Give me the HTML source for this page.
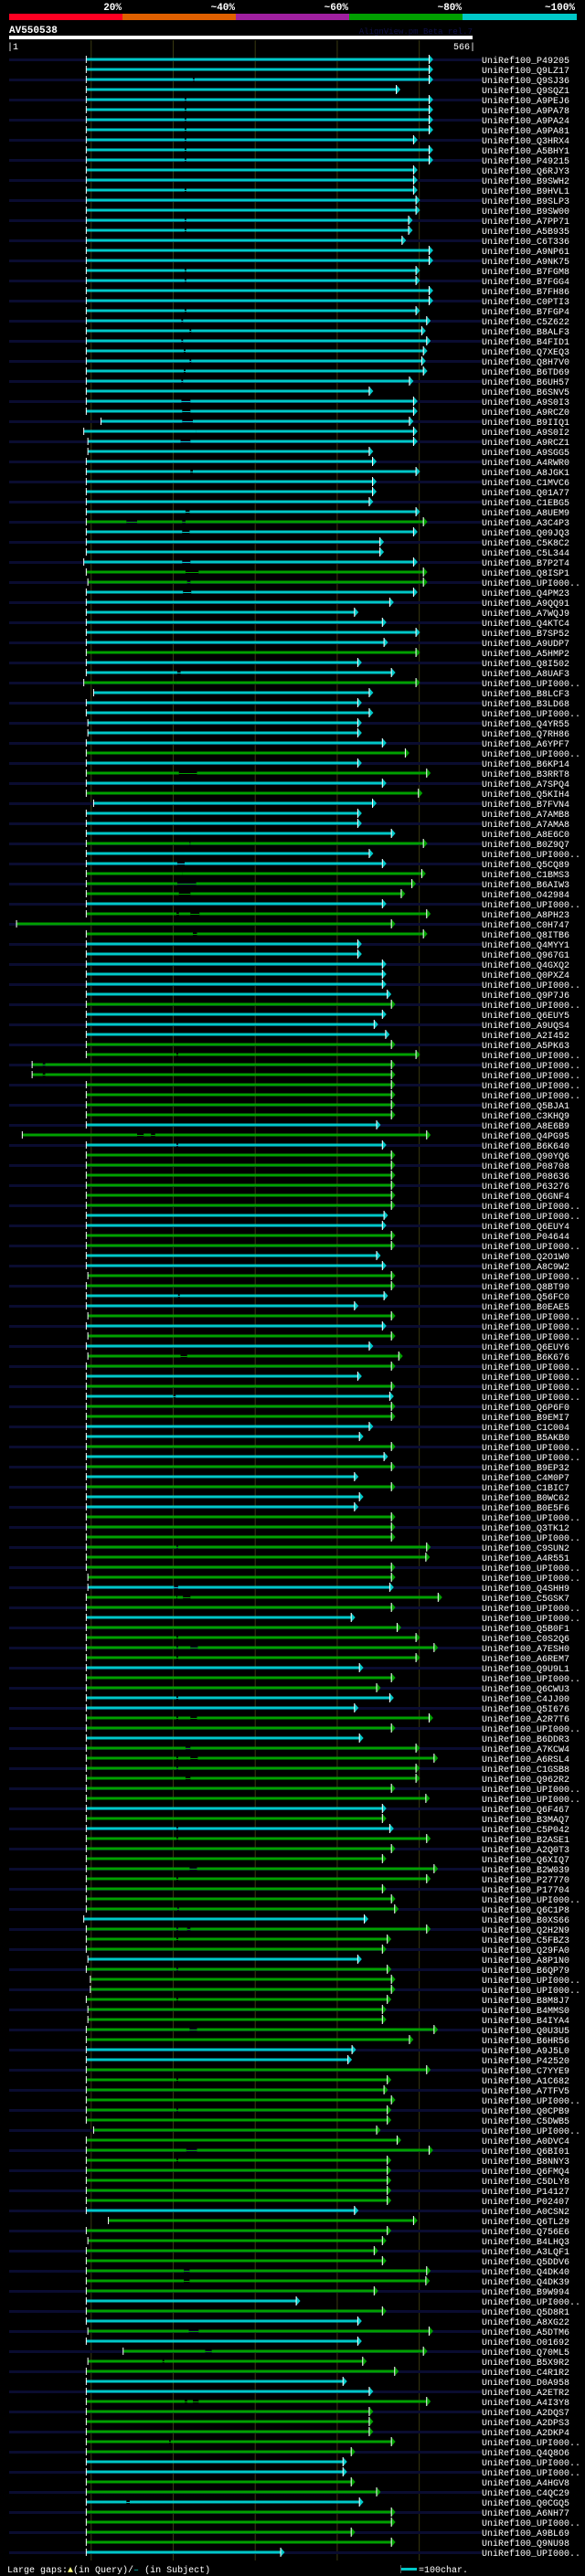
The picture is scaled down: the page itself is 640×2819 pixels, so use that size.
<!DOCTYPE html>
<html><head><meta charset="utf-8">
<style>
html,body{margin:0;padding:0;background:#000;}
svg{display:block;font-family:"Liberation Mono","DejaVu Sans Mono",monospace;}
</style></head>
<body>
<svg id="chart" width="640" height="2819" viewBox="0 0 640 2819" xmlns="http://www.w3.org/2000/svg">
<rect x="0" y="0" width="640" height="2819" fill="#000"/>
<g>
<rect x="10" y="15" width="124" height="7" fill="#ff0022"/>
<rect x="134" y="15" width="124" height="7" fill="#e06000"/>
<rect x="258" y="15" width="124" height="7" fill="#a020a0"/>
<rect x="382" y="15" width="124" height="7" fill="#00a000"/>
<rect x="506" y="15" width="125" height="7" fill="#00c8c8"/>
<g fill="#fff" font-size="11" font-weight="bold" text-anchor="end">
<text x="133" y="11">20%</text>
<text x="257" y="11">~40%</text>
<text x="381" y="11">~60%</text>
<text x="505" y="11">~80%</text>
<text x="629" y="11">~100%</text>
</g>
</g>
<text x="10" y="36" fill="#fff" font-size="11" font-weight="bold">AV550538</text>
<text x="517" y="37" fill="#101048" font-size="9" text-anchor="end">AlignView.pm Beta rel.7</text>
<rect x="10" y="39" width="507" height="4" fill="#fff"/>
<text x="8" y="54" fill="#fff" font-size="10">|1</text>
<text x="520" y="54" fill="#fff" font-size="10" text-anchor="end">566|</text>
<g id="grid"></g>
<g id="rows"></g>
<g>
<text x="8" y="2815" fill="#fff" font-size="10">Large gaps:<tspan fill="#ffff80">▲</tspan>(in Query)/<tspan fill="#00c8c8">–</tspan> (in Subject)</text>
<rect x="439" y="2810" width="17" height="3" fill="#00c8c8"/>
<rect x="438" y="2807" width="1" height="9" fill="#555"/>
<text x="458" y="2815" fill="#fff" font-size="10">=100char.</text>
</g>
</svg>
<script>
const NS="http://www.w3.org/2000/svg";
const labels=["P49205","Q9LZ17","Q9SJ36","Q9SQZ1","A9PEJ6","A9PA78","A9PA24","A9PA81","Q3HRX4","A5BHY1","P49215","Q6RJY3","B9SWH2","B9HVL1","B9SLP3","B9SW00","A7PP71","A5B935","C6T336","A9NP61","A9NK75","B7FGM8","B7FGG4","B7FH86","C0PTI3",
"B7FGP4","C5Z622","B8ALF3","B4FID1","Q7XEQ3","Q8H7V0","B6TD69","B6UH57","B6SNV5","A9S0I3","A9RCZ0","B9IIQ1","A9S0I2","A9RCZ1","A9SGG5","A4RWR0","A8JGK1","C1MVC6","Q01A77","C1EBG5","A8UEM9","A3C4P3","Q09JQ3","C5K8C2","C5L344",
"B7P2T4","Q8ISP1","UPI000..","Q4PM23","A9QQ91","A7WQJ9","Q4KTC4","B7SP52","A9UDP7","A5HMP2","Q8I502","A8UAF3","UPI000..","B8LCF3","B3LD68","UPI000..","Q4YR55","Q7RH86","A6YPF7","UPI000..","B6KP14","B3RRT8","A7SPQ4","Q5KIH4","B7FVN4",
"A7AMB8","A7AMA8","A8E6C0","B0Z9Q7","UPI000..","Q5CQ89","C1BMS3","B6AIW3","O42984","UPI000..","A8PH23","C0H747","Q8ITB6","Q4MYY1","Q967G1","Q4GXQ2","Q0PXZ4","UPI000..","Q9P7J6","UPI000..","Q6EUY5","A9UQS4","A2I452","A5PK63","UPI000..",
"UPI000..","UPI000..","UPI000..","UPI000..","Q5BJA1","C3KHQ9","A8E6B9","Q4PG95","B6K640","Q90YQ6","P08708","P08636","P63276","Q6GNF4","UPI000..","UPI000..","Q6EUY4","P04644","UPI000..","Q2O1W0","A8C9W2","UPI000..","Q8BT90","Q56FC0","B0EAE5",
"UPI000..","UPI000..","UPI000..","Q6EUY6","B6K676","UPI000..","UPI000..","UPI000..","UPI000..","Q6P6F0","B9EMI7","C1C004","B5AKB0","UPI000..","UPI000..","B9EP32","C4M0P7","C1BIC7","B0WC62","B0E5F6","UPI000..","Q3TK12","UPI000..","C9SUN2",
"A4R551","UPI000..","UPI000..","Q4SHH9","C5GSK7","UPI000..","UPI000..","Q5B0F1","C0S2Q6","A7ESH0","A6REM7","Q9U9L1","UPI000..","Q6CWU3","C4JJ00","Q5I676","A2R7T6","UPI000..","B6DDR3","A7KCW4","A6RSL4","C1GSB8","Q962R2","UPI000..",
"UPI000..","Q6F467","B3MAQ7","C5P042","B2ASE1","A2Q0T3","Q6XIQ7","B2W039","P27770","P17704","UPI000..","Q6C1P8","B0XS66","Q2H2N9","C5FBZ3","Q29FA0","A8P1N0","B6QP79","UPI000..","UPI000..","B8M8J7","B4MMS0","B4IYA4","Q0U3U5",
"B6HR56","A9J5L0","P42520","C7YYE9","A1C682","A7TFV5","UPI000..","Q0CPB9","C5DWB5","UPI000..","A0DVC4","Q6BI01","B8NNY3","Q6FMQ4","C5DLY8","P14127","P02407","A0CSN2","Q6TL29","Q756E6","B4LHQ3","A3LQF1","Q5DDV6","Q4DK40",
"Q4DK39","B9W994","UPI000..","Q5D8R1","A8XG22","A5DTM6","O01692","Q70ML5","B5X9R2","C4R1R2","D0A958","A2ETR2","A4I3Y8","A2DQS7","A2DPS3","A2DKP4","UPI000..","Q4Q8O6","UPI000..","UPI000..","A4HGV8","C4QC29",
"Q0CGQ5","A6NH77","UPI000..","A9BL69","Q9NU98","UPI000.."];
const colors=("ccccccccccccccccccccccccc"+
"cccccccccccccccccccccgccc"+
"cggccccccgccgccccccgcgcgc"+
"cccgccgggcgggccccccgcccgg"+
"ggggggcgcggggggccggccggcc"+
"gcgcggcgcggccgcgcgccggggg"+
"ggcggcggggcggccggcggggggc"+
"gcggggggggcgggcggggggggcc"+
"ggggggggggggggcggggggggcg"+
"cgcgggccggggggccggcggggc").split("");
const starts=[95,95,95,95,95,95,95,95,95,95,95,95,95,95,95,95,95,95,95,95,95,95,95,95,95,
95,95,95,95,95,95,95,95,95,95,95,113,92,97,97,95,95,95,95,95,95,95,95,95,95,
92,95,97,95,95,95,95,95,95,95,95,95,92,104,95,95,97,97,95,95,95,95,95,95,104,
95,95,95,95,95,95,95,95,95,95,95,10,95,95,95,95,95,95,95,95,95,95,95,95,95,
29,29,95,95,95,95,95,17,95,95,95,95,95,95,95,95,95,95,95,95,95,97,95,95,95,
97,95,97,95,97,95,95,95,95,95,95,95,95,95,95,95,95,95,95,95,95,95,95,95,
95,95,97,97,95,95,95,95,95,95,95,95,95,95,95,95,95,95,95,95,95,95,95,95,
95,95,95,95,95,95,95,95,95,95,95,95,92,95,95,95,97,95,100,100,95,97,97,95,
95,95,95,95,95,95,95,95,95,104,95,95,95,95,95,95,95,95,122,95,97,95,95,95,
95,95,95,95,95,97,95,140,97,95,95,95,95,95,95,95,95,95,95,95,95,95,
95,95,95,95,95,95];
const ends=[513,513,513,473,513,513,513,513,494,513,513,494,494,494,497,497,488,488,480,513,513,497,497,513,513,
497,510,504,510,506,504,506,489,440,494,494,489,494,494,440,444,497,444,444,440,497,506,494,453,453,
494,506,506,494,465,422,456,497,458,497,426,467,497,440,426,440,426,426,456,484,426,510,456,500,444,
426,426,467,506,440,456,504,492,479,456,510,467,506,426,426,456,456,456,462,467,456,446,460,467,497,
467,467,467,467,467,467,449,510,456,467,467,467,467,467,467,458,456,467,467,449,456,467,467,458,422,
467,456,467,440,476,467,426,467,465,467,467,440,428,467,458,467,422,467,428,422,467,467,467,510,
509,467,467,465,524,467,418,474,497,519,497,428,467,449,465,422,513,467,428,497,519,497,497,467,
509,456,456,465,510,467,456,519,510,456,467,471,434,510,462,456,426,462,467,467,462,456,456,519,
489,419,414,510,462,458,467,462,462,449,474,513,462,462,462,462,462,422,494,462,456,446,456,510,
509,446,351,456,426,513,426,506,432,471,408,440,510,440,440,440,467,418,408,408,418,449,
428,467,467,418,467,332];
const gapRows=[2,4,5,6,7,8,9,10,13,16,17,21,22,25,26,27,28,29,30,31,32,34,35,36,37,38,41,45,46,46,47,50,51,52,53,57,59,61,62,71,73,78,80,81,82,83,85,85,87,99,100,101,107,107,108,123,129,133,148,152,153,153,157,158,158,159,163,165,165,168,169,169,170,171,176,177,180,181,184,186,186,187,190,193,196,201,204,208,209,220,221,226,228,229,233,233,237,243];
const gapFrom=[225,215,215,215,215,215,215,215,215,215,215,215,215,215,211,221,211,214,221,214,211,211,212,212,229,210,222,216,144,212,212,212,216,218,213,213,218,206,204,208,223,221,206,212,206,208,205,222,225,205,42,42,157,174,205,207,210,201,205,202,205,213,205,205,222,205,205,205,222,216,205,222,205,216,205,205,221,205,206,205,218,205,205,205,221,205,205,217,205,214,214,220,240,188,215,225,196,144];
const gapTo=[227,217,217,217,217,217,217,217,217,217,217,217,217,217,213,223,213,216,223,216,213,222,222,225,229,222,225,221,157,216,221,222,232,222,223,208,208,210,204,230,214,222,215,212,229,222,208,233,230,207,45,45,165,179,207,209,218,204,207,207,206,222,207,207,231,207,207,207,230,222,207,231,207,222,207,207,230,207,208,207,222,207,207,207,230,207,207,230,207,221,221,232,248,190,218,232,198,148];

const X0=10, X1=517, QLEN=566;
function xOf(r){return X0+(r-1)*(X1-X0)/(QLEN-1);}
function yOf(i){return 65+11*i;}
const COL={c:"#00c8c8",g:"#00a000"};
const grid=document.getElementById("grid");
const rowsG=document.getElementById("rows");
function mk(tag,attrs,parent){const e=document.createElementNS(NS,tag);for(const k in attrs)e.setAttribute(k,attrs[k]);parent.appendChild(e);return e;}

const gridTicks=[101,201,301,401,501];
gridTicks.forEach(function(t){
  const l=mk("line",{x1:xOf(t),x2:xOf(t),y1:44,y2:2802,stroke:"#3a3a12","stroke-width":1},grid);
  
  
});

labels.forEach(function(lab,i){
  const y=yOf(i);
  const g=mk("g",{},rowsG);
  
  
  if(i%2===0){
    const bg=mk("rect",{x:X0,y:y-1,width:527-X0,height:3,fill:"#0a0c30"},g);
    
    
  }
  const col=COL[colors[i]]||COL.c;
  const xs=xOf(starts[i]), xe=xOf(ends[i]);
  const gs=[];
  gapRows.forEach(function(r,k){if(r===i)gs.push([gapFrom[k],gapTo[k]]);});
  gs.sort(function(a,b){return a[0]-b[0];});
  let cur=xs;
  gs.forEach(function(gp){
    const a=xOf(gp[0]), b=xOf(gp[1]);
    const seg=mk("rect",{x:cur,y:y-1.5,width:Math.max(0,a-cur),height:3,fill:col},g);
    
    
    const gl=mk("rect",{x:a,y:y,width:Math.max(0,b-a),height:1,fill:col},g);
    
    
    cur=Math.max(cur,b);
  });
  const seg=mk("rect",{x:cur,y:y-1.5,width:Math.max(0,xe-cur),height:3,fill:col},g);
  
  
  const tick=mk("rect",{x:xs-0.5,y:y-4,width:1,height:8,fill:"#fff"},g);
  
  
  const tri=mk("polygon",{points:(xe)+","+(y-5)+" "+(xe+4.5)+","+y+" "+(xe)+","+(y+5),fill:col},g);
  
  
  const tl=mk("rect",{x:xe-0.5,y:y-5,width:1,height:10,fill:"#fff"},g);
  
  
  const t=mk("text",{x:527,y:y+4,fill:"#fff","font-size":"10"},g);
  t.textContent="UniRef100_"+lab;
  
  
});
</script>
</body></html>
